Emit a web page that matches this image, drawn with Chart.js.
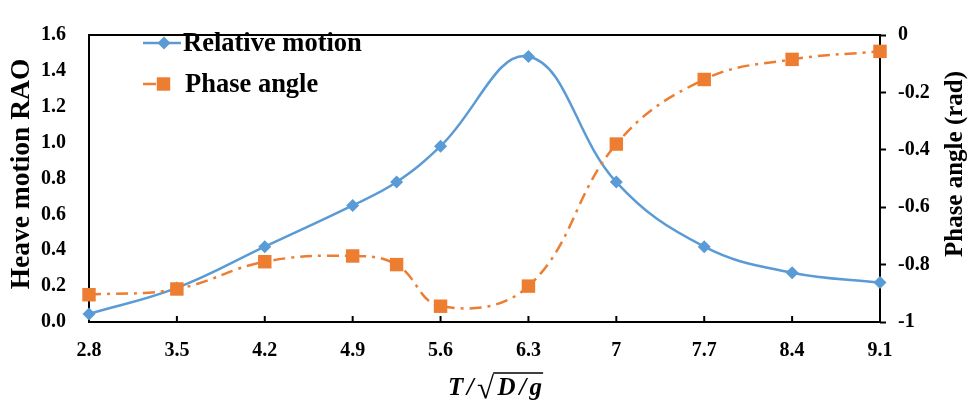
<!DOCTYPE html>
<html>
<head>
<meta charset="utf-8">
<script src="https://cdn.jsdelivr.net/npm/chart.js@4.4.1/dist/chart.umd.min.js"></script>
<style>
  html, body { margin: 0; padding: 0; background: #fff; }
  #wrap { width: 969px; height: 410px; }
</style>
</head>
<body>
<div id="wrap"><canvas id="rao" width="969" height="410"></canvas></div>
<script>
const periods = [2.8, 3.5, 4.2, 4.9, 5.25, 5.6, 6.3, 7.0, 7.7, 8.4, 9.1];
const relativeMotion = [0.045, 0.19, 0.42, 0.65, 0.78, 0.98, 1.48, 0.78, 0.42, 0.275, 0.22];
const phaseAngle = [-0.905, -0.885, -0.79, -0.77, -0.80, -0.945, -0.875, -0.38, -0.155, -0.085, -0.057];
const periodTicks = [2.8, 3.5, 4.2, 4.9, 5.6, 6.3, 7.0, 7.7, 8.4, 9.1];
const periodLabels = ['2.8', '3.5', '4.2', '4.9', '5.6', '6.3', '7', '7.7', '8.4', '9.1'];
const seriesNames = ['Relative motion', 'Phase angle'];

const BLUE = '#5b9bd5';
const ORANGE = '#ed7d31';
const SERIF = '"Liberation Serif", "Times New Roman", serif';
const DASH_DOT = [12, 6, 3, 6];

const tickFont = { family: SERIF, size: 20, weight: 'bold' };

// box round the plot plus the short inward ticks on the period axis
const framePlugin = {
  id: 'frame',
  beforeDatasetsDraw(chart) {
    const { ctx, chartArea: a, scales } = chart;
    ctx.save();
    ctx.strokeStyle = '#000';
    ctx.lineWidth = 2;
    ctx.strokeRect(a.left, a.top, a.right - a.left, a.bottom - a.top);
    ctx.beginPath();
    scales.x.ticks.forEach(t => {
      const px = scales.x.getPixelForValue(t.value);
      ctx.moveTo(px, a.bottom);
      ctx.lineTo(px, a.bottom - 6);
    });
    ctx.stroke();
    ctx.restore();
  }
};

// legend sits inside the plot, top left
const legendPlugin = {
  id: 'insideLegend',
  afterDatasetsDraw(chart) {
    const ctx = chart.ctx;
    const rows = [
      { y: 43, x0: 143, x1: 181, mark: 164, text: 183 },
      { y: 84, x0: 143, x1: 156, mark: 163.5, text: 185 }
    ];
    chart.data.datasets.forEach((ds, i) => {
      const r = rows[i];
      ctx.save();
      ctx.strokeStyle = ds.borderColor;
      ctx.fillStyle = ds.backgroundColor;
      ctx.lineWidth = ds.borderWidth;
      ctx.beginPath();
      ctx.moveTo(r.x0, r.y);
      ctx.lineTo(r.x1, r.y);
      ctx.stroke();
      Chart.helpers.drawPoint(ctx, {
        pointStyle: ds.pointStyle, radius: ds.pointRadius, rotation: 0, borderWidth: 0
      }, r.mark, r.y);
      ctx.fillStyle = '#000';
      ctx.font = `bold 26.5px ${SERIF}`;
      ctx.textBaseline = 'middle';
      ctx.textAlign = 'left';
      ctx.fillText(ds.label, r.text, r.y + 1);
      ctx.restore();
    });
  }
};

// axis titles
const titlePlugin = {
  id: 'axisTitles',
  afterDraw(chart) {
    const ctx = chart.ctx;
    ctx.save();
    ctx.fillStyle = '#000';
    ctx.textAlign = 'center';
    ctx.textBaseline = 'middle';

    ctx.save();
    ctx.translate(22, 174);
    ctx.rotate(-Math.PI / 2);
    ctx.font = `bold 27.5px ${SERIF}`;
    ctx.fillText('Heave motion RAO', 0, 0);
    ctx.restore();

    ctx.save();
    ctx.translate(956, 164);
    ctx.rotate(-Math.PI / 2);
    ctx.font = `bold 25px ${SERIF}`;
    ctx.fillText('Phase angle (rad)', 0, 0);
    ctx.restore();

    // T / sqrt(D / g), set glyph by glyph with some air between them
    const it = `italic bold 25px ${SERIF}`;
    const rad = `bold 31px ${SERIF}`;
    const glyphs = [
      ['T', it], ['/', it], ['\u221A', rad], ['D', it], ['/', it], ['g', it]
    ];
    const gap = 3.5;
    ctx.textAlign = 'left';
    ctx.textBaseline = 'alphabetic';
    const widths = glyphs.map(([c, f]) => { ctx.font = f; return ctx.measureText(c).width; });
    const total = widths.reduce((s, w) => s + w, 0) + gap * (glyphs.length - 1);
    let x = 495 - total / 2;
    const base = 395;
    let overStart = 0;
    glyphs.forEach(([c, f], i) => {
      ctx.font = f;
      ctx.fillText(c, x, base + (c === '\u221A' ? 3 : 0));
      if (c === '\u221A') overStart = x + widths[i] - 1;
      x += widths[i] + gap;
    });
    ctx.strokeStyle = '#000';
    ctx.lineWidth = 1.6;
    ctx.beginPath();
    ctx.moveTo(overStart, 373);
    ctx.lineTo(x - gap + 1, 373);
    ctx.stroke();
    ctx.restore();
  }
};

new Chart(document.getElementById('rao'), {
  type: 'line',
  data: {
    datasets: [
      {
        label: seriesNames[0],
        data: periods.map((x, i) => ({ x, y: relativeMotion[i] })),
        yAxisID: 'y',
        borderColor: BLUE,
        backgroundColor: BLUE,
        borderWidth: 2.5,
        pointStyle: 'rectRot',
        pointRadius: 6.5,
        pointBorderWidth: 0,
        tension: 0.4,
        clip: false,
        order: 1
      },
      {
        label: seriesNames[1],
        data: periods.map((x, i) => ({ x, y: phaseAngle[i] })),
        yAxisID: 'y1',
        borderColor: ORANGE,
        backgroundColor: ORANGE,
        borderWidth: 2.5,
        borderDash: DASH_DOT,
        pointStyle: 'rect',
        pointRadius: 9.5,
        pointBorderWidth: 0,
        tension: 0.4,
        clip: false,
        order: 0
      }
    ]
  },
  options: {
    responsive: false,
    animation: false,
    devicePixelRatio: 1,
    layout: { padding: { top: 14, left: 0, right: 0, bottom: 0 } },
    plugins: { legend: { display: false }, tooltip: { enabled: false } },
    scales: {
      x: {
        type: 'linear',
        min: 2.8,
        max: 9.1,
        afterBuildTicks: s => { s.ticks = periodTicks.map(v => ({ value: v })); },
        afterFit: s => { s.height = 88; },
        grid: { display: false, drawTicks: false },
        border: { display: false },
        ticks: {
          callback: (v, i) => periodLabels[i],
          padding: 17,
          color: '#000',
          font: tickFont,
          maxRotation: 0,
          autoSkip: false
        }
      },
      y: {
        position: 'left',
        min: 0,
        max: 1.6,
        afterFit: s => { s.width = 89; },
        grid: { display: false, drawTicks: false },
        border: { display: false },
        ticks: {
          stepSize: 0.2,
          callback: v => v.toFixed(1),
          padding: 23,
          color: '#000',
          font: tickFont
        }
      },
      y1: {
        position: 'right',
        min: -1,
        max: 0,
        afterFit: s => { s.width = 89; },
        grid: {
          drawOnChartArea: false,
          drawTicks: true,
          tickLength: 6,
          tickWidth: 2,
          tickColor: '#000'
        },
        border: { display: false },
        ticks: {
          stepSize: 0.2,
          callback: v => String(+v.toFixed(1)),
          padding: 12,
          color: '#000',
          font: tickFont
        }
      }
    }
  },
  plugins: [framePlugin, legendPlugin, titlePlugin]
});
</script>
</body>
</html>
